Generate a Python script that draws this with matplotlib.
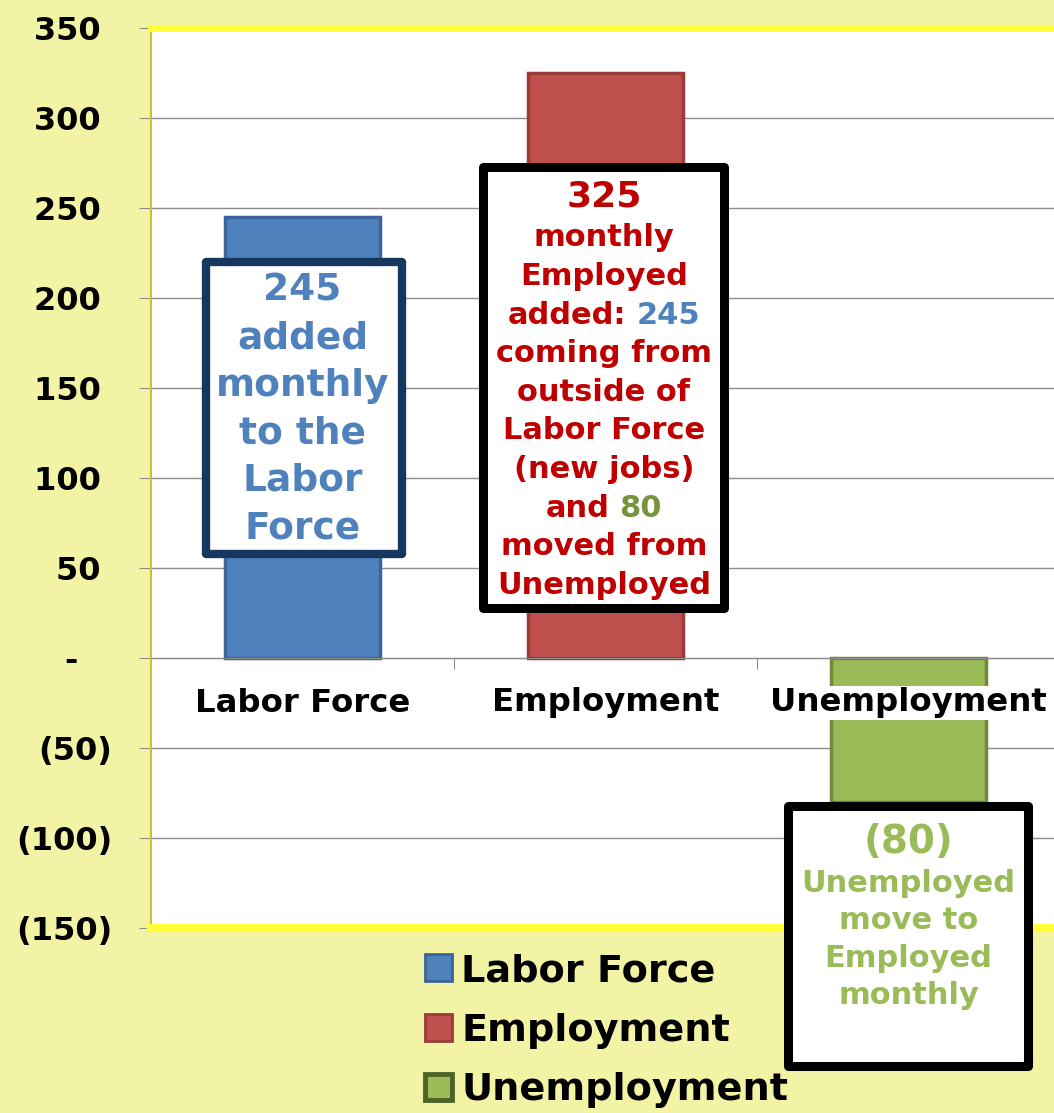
import numpy as np
import matplotlib
matplotlib.use('Agg')
import matplotlib.pyplot as plt
from matplotlib.patches import Patch, Rectangle
from matplotlib.ticker import FuncFormatter, FixedLocator
from matplotlib.offsetbox import TextArea, HPacker, VPacker, AnnotationBbox

# data
categories = ['Labor Force', 'Employment', 'Unemployment']
values = [245, 325, -80]
bar_colors = ['#4F81BD', '#C0504D', '#9BBB59']
edge_colors = ['#3A659A', '#9A3B39', '#6F8A3A']
legend_edges = ['#3A659A', '#9A3B39', '#4F6228']
text_colors = ['#4F81BD', '#C00000', '#9BBB59']
y_ticks = np.arange(-150, 351, 50)

BG = '#F3F3A6'
YELLOW = '#FFFF3A'

plt.rcParams['font.family'] = ['DejaVu Sans']

fig = plt.figure(figsize=(10.54, 11.13), dpi=100, facecolor=BG)
ax = fig.add_axes([151 / 1054, 185 / 1113, 909 / 1054, 900 / 1113])
ax.set_facecolor('white')

x = np.arange(len(categories))
ax.bar(x, values, width=0.51, color=bar_colors, edgecolor=edge_colors,
       linewidth=2.5, zorder=2)

ax.set_xlim(-0.5, 2.5)
ax.set_ylim(-150, 350)
ax.set_yticks(y_ticks)


def acct(v, pos):
    if v == 0:
        return '-   '
    if v < 0:
        return '(%d)' % -v
    return '%d ' % v


ax.yaxis.set_major_formatter(FuncFormatter(acct))
ax.tick_params(axis='y', length=9, color='#8c8c8c', pad=19, labelsize=23)
for lab in ax.get_yticklabels():
    lab.set_fontweight('bold')

ax.yaxis.grid(True, color='#8c8c8c', lw=1)
ax.set_axisbelow(True)

# x axis sits on zero, ticks between categories
ax.spines['bottom'].set_position(('data', 0))
ax.spines['bottom'].set_color('#8c8c8c')
ax.xaxis.set_major_locator(FixedLocator([0.5, 1.5]))
ax.xaxis.set_major_formatter(FuncFormatter(lambda v, p: ''))
ax.tick_params(axis='x', length=8, color='#8c8c8c')
ax.spines['top'].set_color(YELLOW)
ax.spines['top'].set_linewidth(5)
ax.spines['left'].set_color('#C9C430')
ax.spines['left'].set_linewidth(1.5)
ax.spines['right'].set_visible(False)
ax.axhline(-150, color=YELLOW, lw=6, clip_on=False, zorder=2.6)

for i, name in enumerate(categories):
    ax.text(i, -25, name, ha='center', va='center', fontsize=23.3,
            fontweight='bold', color='black', zorder=5,
            bbox=dict(facecolor='white', edgecolor='none', pad=1))


def text_block(lines, sep):
    rows = []
    for line in lines:
        parts = [TextArea(s, textprops=dict(color=c, fontsize=fs, fontweight='bold'))
                 for s, c, fs in line]
        rows.append(HPacker(children=parts, align='baseline', pad=0, sep=7))
    return VPacker(children=rows, align='center', pad=0, sep=sep)


def callout(x0, x1, y0, y1, edge, lw, block, cx, cy):
    ax.add_patch(Rectangle((x0, y0), x1 - x0, y1 - y0, facecolor='white',
                           edgecolor=edge, lw=lw, zorder=4, clip_on=False,
                           joinstyle='round'))
    ab = AnnotationBbox(block, (cx, cy), xycoords='data', frameon=False,
                        box_alignment=(0.5, 0.5), pad=0, zorder=5,
                        annotation_clip=False)
    ax.add_artist(ab)


# Labor Force callout
b, r, g = text_colors
lf_lines = [[('%d' % values[0], b, 27)], [('added', b, 27)], [('monthly', b, 27)],
            [('to the', b, 27)], [('Labor', b, 27)], [('Force', b, 27)]]
callout(-0.32, 0.33, 58, 220, '#17375E', 6, text_block(lf_lines, 8.3), 0.0, 138)

# Employment callout
em_lines = [[('%d' % values[1], r, 26)], [('monthly', r, 22)], [('Employed', r, 22)],
            [('added:', r, 22), ('%d' % values[0], b, 22)],
            [('coming from', r, 22)], [('outside of', r, 22)],
            [('Labor Force', r, 22)], [('(new jobs)', r, 22)],
            [('and', r, 22), ('%d' % -values[2], '#77933C', 22)],
            [('moved from', r, 22)], [('Unemployed', r, 22)]]
callout(0.596, 1.391, 28, 273, 'black', 6.5, text_block(em_lines, 6.9), 0.995, 149)

# Unemployment callout
un_lines = [[('(%d)' % -values[2], g, 28)], [('Unemployed', g, 22)],
            [('move to', g, 22)], [('Employed', g, 22)], [('monthly', g, 22)]]
callout(1.602, 2.394, -226.7, -82.2, 'black', 6.5, text_block(un_lines, 6), 2.0, -143.6)

handles = [Patch(facecolor=bar_colors[i], edgecolor=legend_edges[i],
                 linewidth=2 if i < 2 else 3.5) for i in range(3)]
fig.legend(handles, categories, loc='upper left',
           bbox_to_anchor=(425 / 1054, 1 - 953 / 1113), frameon=False,
           prop=dict(weight='bold', size=27.5), handlelength=0.7,
           handleheight=0.7, handletextpad=0.25, labelspacing=0.62,
           borderpad=0, borderaxespad=0)

plt.savefig('out.png', dpi=100, facecolor=BG)
